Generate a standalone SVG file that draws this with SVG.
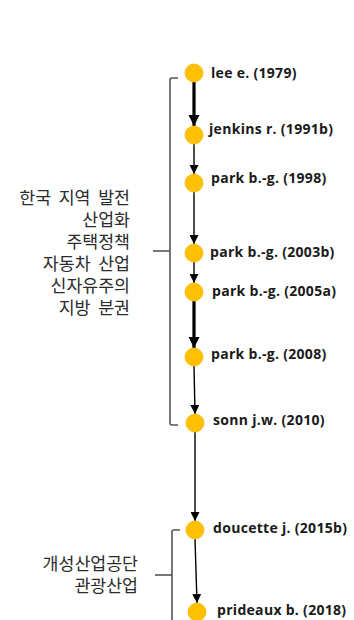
<svg xmlns="http://www.w3.org/2000/svg" width="354" height="620" viewBox="0 0 354 620">
<defs>
<style>
.node circle{fill:#FFC000;stroke:#F5B800;stroke-width:0.8}
.node text{font-family:"Open Sans","Liberation Sans",sans-serif;font-weight:bold;font-size:14px;letter-spacing:0.3px;fill:#1a1a1a}
.kr{font-family:"Noto Sans CJK KR","Noto Sans",sans-serif;font-size:17.3px;word-spacing:3.8px;fill:#2b2b2b;text-anchor:end}
.br{fill:none;stroke:#555;stroke-width:1.6;stroke-linejoin:round}
.thin{stroke:#000;stroke-width:1.4;fill:none;marker-end:url(#ah)}
.thick{stroke:#000;stroke-width:3.2;fill:none;marker-end:url(#ahb)}
</style>
<marker id="ah" markerUnits="userSpaceOnUse" markerWidth="10" markerHeight="9" refX="9" refY="4.5" orient="auto"><path d="M0,0 L9,4.5 L0,9 Z" fill="#000"/></marker>
<marker id="ahb" markerUnits="userSpaceOnUse" markerWidth="12" markerHeight="12" refX="11" refY="5.5" orient="auto"><path d="M0,0 L11,5.5 L0,11 Z" fill="#000"/></marker>
</defs>
<g id="brackets">
<path class="br" d="M178,78 L172,78 Q170,78 170,80 L170,423 Q170,425 172,425 L178,425"/>
<path class="br" d="M153,251 L170,251"/>
<path class="br" d="M180,530 L174,530 Q172,530 172,532 L172,620"/>
<path class="br" d="M155,575 L172,575"/>
</g>
<g id="labels">
<text class="kr"><tspan x="130" y="203.5">한국 지역 발전</tspan><tspan x="130" dy="22">산업화</tspan><tspan x="130" dy="22">주택정책</tspan><tspan x="130" dy="22">자동차 산업</tspan><tspan x="130" dy="22">신자유주의</tspan><tspan x="130" dy="22">지방 분권</tspan></text>
<text class="kr"><tspan x="138" y="569.5">개성산업공단</tspan><tspan x="138" dy="22">관광산업</tspan></text>
</g>
<g id="connectors">
<line class="thick" x1="194" y1="82" x2="194" y2="126"/>
<line class="thin" x1="194" y1="144" x2="194" y2="174"/>
<line class="thin" x1="194" y1="192" x2="194" y2="244"/>
<line class="thin" x1="194" y1="262" x2="194" y2="283"/>
<line class="thick" x1="194" y1="301" x2="194" y2="348"/>
<line class="thin" x1="194" y1="366" x2="195" y2="414"/>
<line class="thin" x1="195" y1="432" x2="195" y2="521"/>
<line class="thin" x1="195" y1="539" x2="197" y2="603"/>
</g>
<g id="n1" class="node"><circle cx="194" cy="73" r="9"/><text x="211" y="78">lee e. (1979)</text></g>
<g id="n2" class="node"><circle cx="194" cy="135" r="9"/><text x="209" y="134">jenkins r. (1991b)</text></g>
<g id="n3" class="node"><circle cx="194" cy="183" r="9"/><text x="211" y="183">park b.-g. (1998)</text></g>
<g id="n4" class="node"><circle cx="194" cy="253" r="9"/><text x="210" y="257">park b.-g. (2003b)</text></g>
<g id="n5" class="node"><circle cx="194" cy="292" r="9"/><text x="212" y="296">park b.-g. (2005a)</text></g>
<g id="n6" class="node"><circle cx="194" cy="357" r="9"/><text x="211" y="359">park b.-g. (2008)</text></g>
<g id="n7" class="node"><circle cx="195" cy="423" r="9"/><text x="213" y="425">sonn j.w. (2010)</text></g>
<g id="n8" class="node"><circle cx="195" cy="530" r="9"/><text x="213" y="533">doucette j. (2015b)</text></g>
<g id="n9" class="node"><circle cx="197" cy="612" r="9"/><text x="217" y="615">prideaux b. (2018)</text></g>
</svg>
